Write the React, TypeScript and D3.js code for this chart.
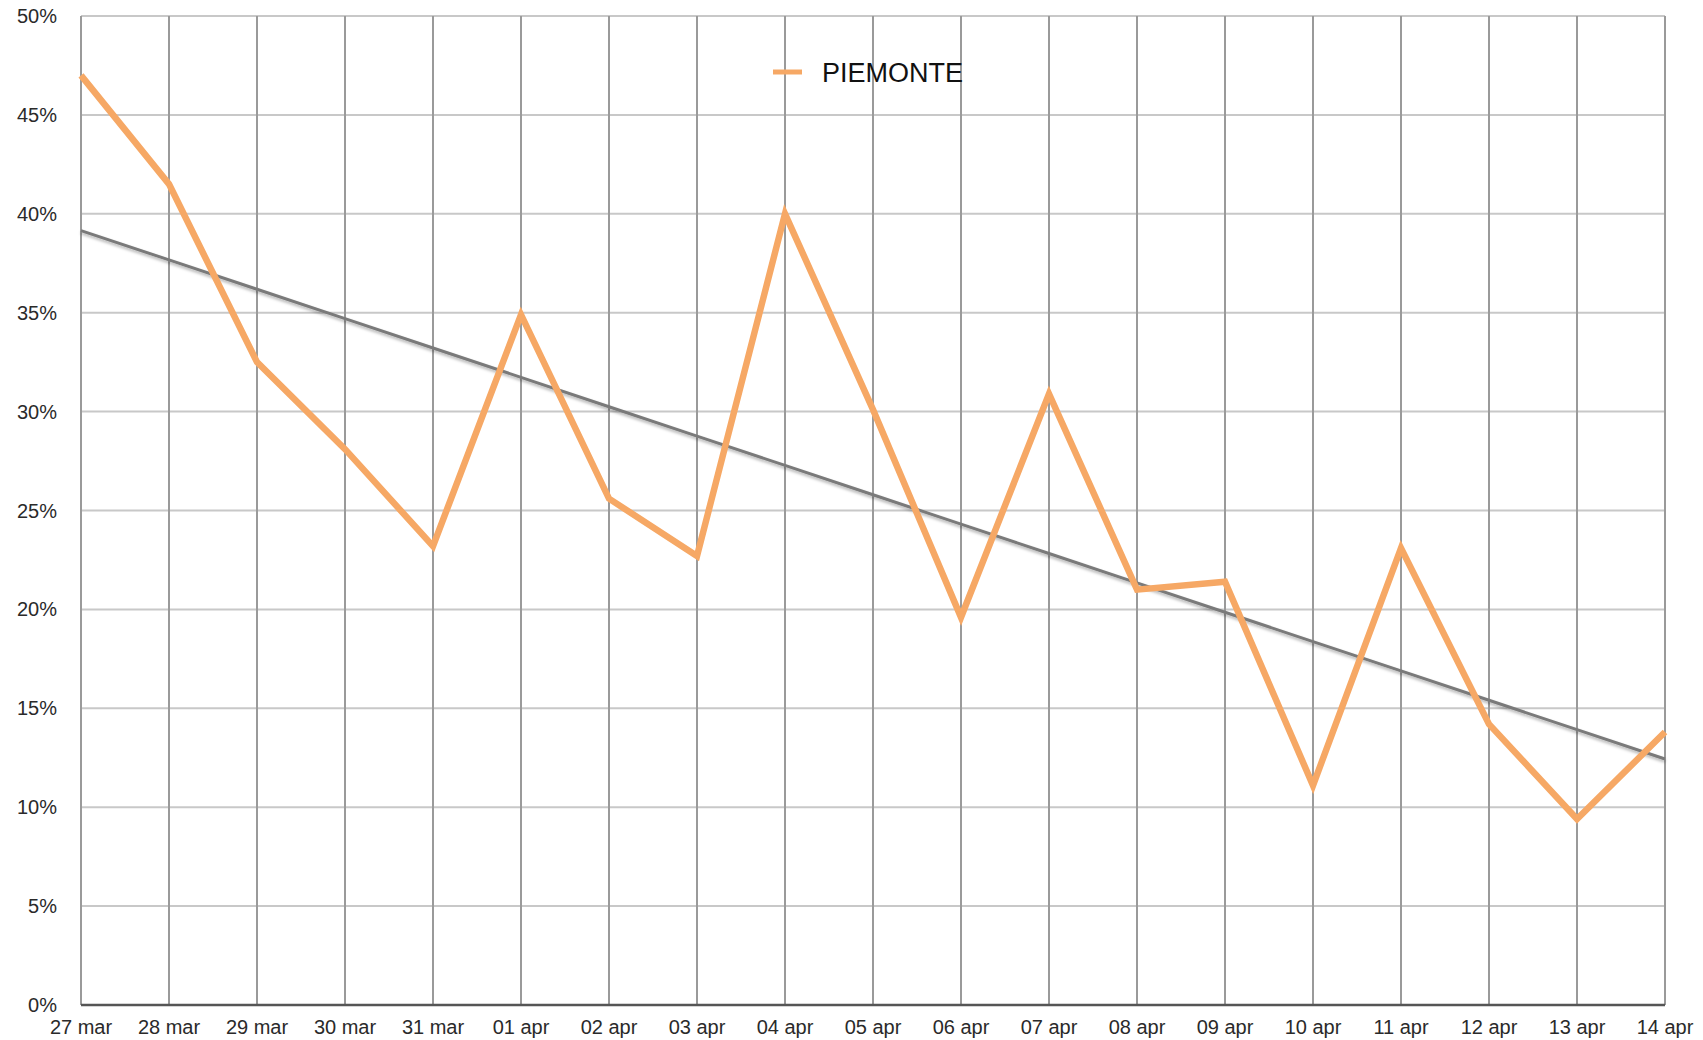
import React from 'react';
import * as d3 from 'd3';

const days = [
  '27 mar', '28 mar', '29 mar', '30 mar', '31 mar', '01 apr', '02 apr', '03 apr', '04 apr', '05 apr',
  '06 apr', '07 apr', '08 apr', '09 apr', '10 apr', '11 apr', '12 apr', '13 apr', '14 apr',
];
const piemonte = [
  47.0, 41.5, 32.5, 28.1, 23.2, 34.9, 25.6, 22.7, 40.0, 30.1,
  19.6, 30.9, 21.0, 21.4, 11.1, 23.1, 14.2, 9.4, 13.8,
];
const yTicks = [0, 5, 10, 15, 20, 25, 30, 35, 40, 45, 50];
const seriesName = 'PIEMONTE';

const width = 1703;
const height = 1040;
const margin = { top: 16, right: 38, bottom: 35, left: 81 };

const App: React.FC = () => {
  const x = d3.scalePoint<string>()
    .domain(days)
    .range([margin.left, width - margin.right]);

  const y = d3.scaleLinear()
    .domain([0, 50])
    .range([height - margin.bottom, margin.top]);

  const line = d3.line<number>()
    .x((_, i) => x(days[i]) ?? 0)
    .y(d => y(d));

  // least squares trend line
  const idx = piemonte.map((_, i) => i);
  const mx = d3.mean(idx) ?? 0;
  const my = d3.mean(piemonte) ?? 0;
  const slope = d3.sum(idx, i => (i - mx) * (piemonte[i] - my)) / d3.sum(idx, i => (i - mx) ** 2);
  const trend = idx.map(i => my + slope * (i - mx));

  const font = '"Liberation Sans", Arial, Helvetica, sans-serif';

  return (
    <svg
      width={width}
      height={height}
      style={{ position: 'absolute', left: 0, top: 0, background: '#fff' }}
    >
      <defs>
        <filter id="shadow" x="-5%" y="-50%" width="110%" height="200%">
          <feDropShadow dx="0" dy="2" stdDeviation="1.5" floodColor="#000" floodOpacity="0.3" />
        </filter>
      </defs>

      {/* horizontal grid */}
      <g>
        {yTicks.map(t => (
          <line
            key={t}
            x1={margin.left}
            x2={width - margin.right}
            y1={y(t)}
            y2={y(t)}
            stroke="#c8c8c8"
            strokeWidth={2}
          />
        ))}
      </g>

      {/* vertical grid */}
      <g>
        {days.map(d => (
          <line
            key={d}
            x1={x(d)}
            x2={x(d)}
            y1={y(50)}
            y2={y(0)}
            stroke="#9a9a9a"
            strokeWidth={2}
          />
        ))}
      </g>

      {/* x axis baseline */}
      <line
        x1={margin.left}
        x2={width - margin.right}
        y1={y(0)}
        y2={y(0)}
        stroke="#555"
        strokeWidth={2.5}
      />

      {/* y labels */}
      <g fontFamily={font} fontSize={20} fill="#2a2a2a" textAnchor="end">
        {yTicks.map(t => (
          <text key={t} x={margin.left - 24} y={y(t)} dy="0.35em">{`${t}%`}</text>
        ))}
      </g>

      {/* x labels */}
      <g fontFamily={font} fontSize={20} fill="#2a2a2a" textAnchor="middle">
        {days.map(d => (
          <text key={d} x={x(d)} y={height - 6}>{d}</text>
        ))}
      </g>

      {/* trend */}
      <path
        d={line(trend) ?? ''}
        fill="none"
        stroke="#7a7a7a"
        strokeWidth={3}
        filter="url(#shadow)"
      />

      {/* series */}
      <path
        d={line(piemonte) ?? ''}
        fill="none"
        stroke="#f6a865"
        strokeWidth={6.5}
        strokeLinejoin="miter"
      />

      {/* legend */}
      <line x1={773} x2={802} y1={72} y2={72} stroke="#f6a865" strokeWidth={5} />
      <text x={822} y={82} fontFamily={font} fontSize={27} fill="#111">{seriesName}</text>
    </svg>
  );
};

export default App;
